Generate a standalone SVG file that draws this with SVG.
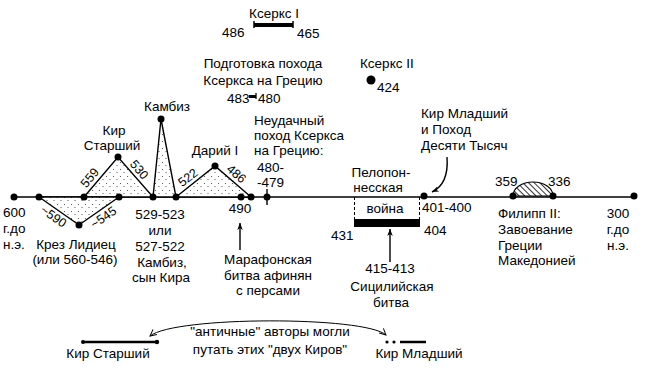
<svg xmlns="http://www.w3.org/2000/svg" width="650" height="370" viewBox="0 0 650 370">
<style>
text{font-family:"Liberation Sans",Arial,sans-serif;font-size:13.5px;fill:#000}
.s{font-size:12.5px;text-anchor:middle}
.c{text-anchor:middle}
.ln{stroke:#000;stroke-width:1.4;fill:none}
.tri{stroke:#000;stroke-width:1.4;fill:url(#dots)}
.dot{fill:#000}
</style>
<defs>
<pattern id="dots" width="7" height="7" patternUnits="userSpaceOnUse">
<rect width="7" height="7" fill="#fff"/>
<circle cx="1.5" cy="1.5" r="0.6" fill="#444"/>
<circle cx="5" cy="4.5" r="0.6" fill="#444"/>
</pattern>
<pattern id="hatch" width="4" height="4" patternUnits="userSpaceOnUse" patternTransform="rotate(-45)">
<rect width="4" height="4" fill="#fff"/>
<line x1="0" y1="0" x2="0" y2="4" stroke="#000" stroke-width="1.6"/>
</pattern>
<marker id="ah" viewBox="0 0 10 10" refX="10" refY="5" markerWidth="7" markerHeight="7" orient="auto" markerUnits="userSpaceOnUse">
<path d="M0,1 L10,5 L0,9 L3,5 z" fill="#000"/>
</marker>
<marker id="oh" viewBox="0 0 10 10" refX="9" refY="5" markerWidth="8" markerHeight="8" orient="auto-start-reverse" markerUnits="userSpaceOnUse">
<path d="M1,1 L9,5 L1,9" fill="none" stroke="#000" stroke-width="1.2"/>
</marker>
</defs>
<rect width="650" height="370" fill="#fff"/>

<g id="connectors">
<line class="ln" x1="14" y1="197" x2="634" y2="197"/>
<line x1="240" y1="250" x2="240" y2="223" stroke="#000" stroke-width="1.4" marker-end="url(#ah)"/>
<line x1="390" y1="262" x2="390" y2="229" stroke="#000" stroke-width="1.4" marker-end="url(#ah)"/>
<path d="M447,157 Q449,184 432,192" fill="none" stroke="#000" stroke-width="1.4" marker-end="url(#ah)"/>
<path d="M150,336 C175,316 365,316 386,335" fill="none" stroke="#000" stroke-width="1" marker-start="url(#oh)" marker-end="url(#oh)"/>
</g>

<g id="kserks1">
<rect x="254" y="23" width="39" height="4" fill="#000"/>
<line x1="254" y1="21" x2="254" y2="28" stroke="#000" stroke-width="1.5"/>
<line x1="293" y1="21" x2="293" y2="28" stroke="#000" stroke-width="1.5"/>
<text x="274" y="18" class="c">Ксеркс I</text>
<text x="222" y="37">486</text>
<text x="297" y="38">465</text>
</g>

<g id="podgotovka">
<text x="263" y="68" class="c">Подготовка похода</text>
<text x="263" y="85" class="c">Ксеркса на Грецию</text>
<rect x="249" y="95" width="7" height="3" fill="#000"/>
<line x1="256" y1="93" x2="256" y2="99" stroke="#000" stroke-width="1.3"/>
<text x="227" y="103">483</text>
<text x="258" y="103">480</text>
</g>

<g id="kserks2">
<circle class="dot" cx="371" cy="80" r="4.5"/>
<text x="360" y="68">Ксеркс II</text>
<text x="377" y="92">424</text>
</g>

<g id="kir-starshiy">
<polygon class="tri" points="84,197 118,157 153,197"/>
<text x="114" y="135" class="c">Кир</text>
<text x="112" y="150" class="c">Старший</text>
<text class="s" transform="translate(96,183) rotate(-50)" y="-4">559</text>
<text class="s" transform="translate(133,175) rotate(49)" y="-4">530</text>
</g>

<g id="krez">
<polygon class="tri" points="39,197 79,225 119,197"/>
<text class="s" transform="translate(58,210) rotate(35)" y="12">~590</text>
<text class="s" transform="translate(99,211) rotate(-35)" y="12">~545</text>
<text x="76" y="249" class="c">Крез Лидиец</text>
<text x="75" y="264" class="c">(или 560-546)</text>
</g>

<g id="kambiz">
<polygon class="tri" points="153,197 161,119 176,197"/>
<text x="167" y="111" class="c">Камбиз</text>
<text x="160" y="219" class="c">529-523</text>
<text x="160" y="235" class="c">или</text>
<text x="160" y="251" class="c">527-522</text>
<text x="162" y="267" class="c">Камбиз,</text>
<text x="161" y="282" class="c">сын Кира</text>
</g>

<g id="dariy">
<polygon class="tri" points="176,197 215,166 251,197"/>
<text x="215" y="155" class="c">Дарий I</text>
<text class="s" transform="translate(193,184) rotate(-38)" y="-4">522</text>
<text class="s" transform="translate(231,180) rotate(41)" y="-4">486</text>
</g>

<g id="marathon">
<circle class="dot" cx="241" cy="197" r="3.5"/>
<text x="240" y="213" class="c">490</text>
<text x="268" y="264" class="c">Марафонская</text>
<text x="268" y="280" class="c">битва афинян</text>
<text x="268" y="295" class="c">с персами</text>
</g>

<g id="neudachny">
<line x1="267" y1="189" x2="267" y2="205" stroke="#000" stroke-width="1.4"/>
<circle class="dot" cx="267" cy="197" r="3.5"/>
<text x="254" y="125">Неудачный</text>
<text x="254" y="140">поход Ксеркса</text>
<text x="254" y="155">на Грецию:</text>
<text x="257" y="172">480-</text>
<text x="257" y="187">-479</text>
</g>

<g id="peloponnes">
<line x1="354.5" y1="197" x2="354.5" y2="219" stroke="#000" stroke-width="1" stroke-dasharray="3,2"/>
<line x1="419.5" y1="197" x2="419.5" y2="219" stroke="#000" stroke-width="1" stroke-dasharray="3,2"/>
<rect x="354" y="219" width="66" height="8" fill="#000"/>
<text x="381" y="177" class="c">Пелопон-</text>
<text x="378" y="192" class="c">несская</text>
<text x="385" y="213" class="c">война</text>
<text x="331" y="240">431</text>
<text x="424" y="235">404</text>
</g>

<g id="sicily">
<text x="390" y="273" class="c">415-413</text>
<text x="392" y="291" class="c">Сицилийская</text>
<text x="391" y="307" class="c">битва</text>
</g>

<g id="kir-mladshiy">
<circle class="dot" cx="424" cy="196" r="3.5"/>
<text x="421" y="118">Кир Младший</text>
<text x="421" y="134">и Поход</text>
<text x="421" y="150">Десяти Тысяч</text>
<text x="422" y="212">401-400</text>
</g>

<g id="filipp">
<path d="M513,196 A20,14 0 0 1 553,196 Z" fill="url(#hatch)" stroke="#000" stroke-width="1.2"/>
<circle class="dot" cx="513" cy="196" r="3.5"/>
<circle class="dot" cx="553" cy="196" r="3.5"/>
<text x="495" y="186">359</text>
<text x="548" y="186">336</text>
<text x="498" y="218">Филипп II:</text>
<text x="498" y="234">Завоевание</text>
<text x="498" y="250">Греции</text>
<text x="498" y="265">Македонией</text>
</g>

<g id="end300">
<circle class="dot" cx="634" cy="196" r="3.5"/>
<text x="618" y="218" class="c">300</text>
<text x="618" y="234" class="c">г.до</text>
<text x="618" y="250" class="c">н.э.</text>
</g>

<g id="start600">
<circle class="dot" cx="14" cy="197" r="3.5"/>
<text x="3" y="217">600</text>
<text x="3" y="233">г.до</text>
<text x="3" y="249">н.э.</text>
</g>

<g id="vertices">
<circle class="dot" cx="39" cy="197" r="3.5"/>
<circle class="dot" cx="79" cy="225" r="3.5"/>
<circle class="dot" cx="84" cy="197" r="3.5"/>
<circle class="dot" cx="118" cy="157" r="3.5"/>
<circle class="dot" cx="119" cy="197" r="3.5"/>
<circle class="dot" cx="153" cy="197" r="3.5"/>
<circle class="dot" cx="161" cy="119" r="3.5"/>
<circle class="dot" cx="176" cy="197" r="3.5"/>
<circle class="dot" cx="215" cy="166" r="3.5"/>
<circle class="dot" cx="251" cy="197" r="3.5"/>
</g>

<g id="legend">
<line x1="83" y1="342" x2="157" y2="342" stroke="#000" stroke-width="2.5"/>
<circle class="dot" cx="83" cy="342" r="2"/>
<circle class="dot" cx="157" cy="342" r="2.2"/>
<circle class="dot" cx="387" cy="342" r="1.6"/>
<circle class="dot" cx="394" cy="342" r="1.6"/>
<line x1="400" y1="342" x2="426" y2="342" stroke="#000" stroke-width="2.5"/>
<text x="108" y="358" class="c">Кир Старший</text>
<text x="270" y="336" class="c">"античные" авторы могли</text>
<text x="270" y="354" class="c">путать этих "двух Киров"</text>
<text x="419" y="358" class="c">Кир Младший</text>
</g>
</svg>
